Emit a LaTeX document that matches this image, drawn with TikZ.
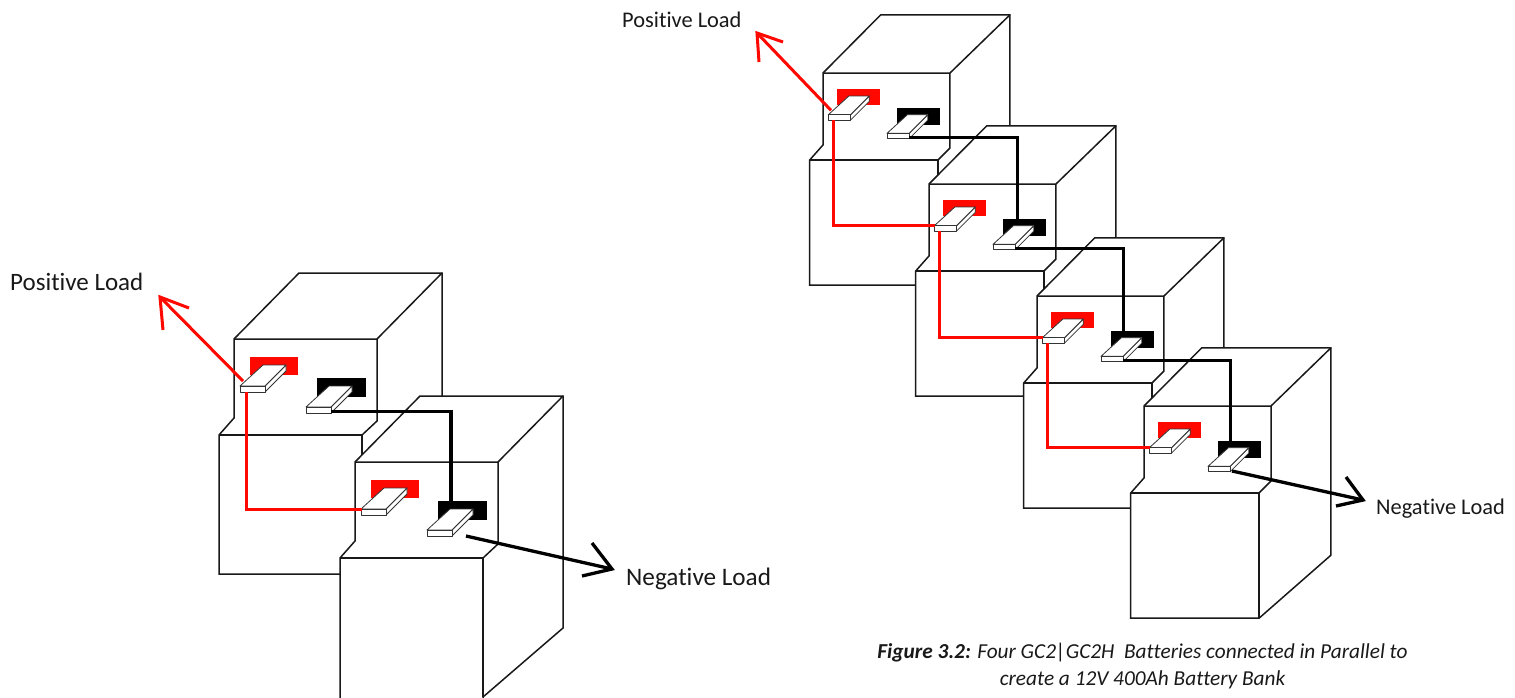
\documentclass[tikz,border=0pt]{standalone}
\usepackage{fontspec}
\setmainfont{Carlito}[Ligatures=NoCommon]
\definecolor{bred}{RGB}{255,8,0}
\tikzset{
  case/.style={draw=black!90,line width=1.5pt,line join=miter},
  lug/.style={draw=black!80,fill=white,line width=0.8pt,line join=round},
  redwire/.style={draw=bred,line width=3pt,line join=miter},
  blackwire/.style={draw=black,line width=3.3pt,line join=miter},
  loadtext/.style={anchor=base west,inner sep=0pt,text=black!90},
}
% proportions of a case: back right x, neck y, side edge end, lower right x,
% side corner y, neck left y, neck right y, top back y
\def\kX{208}\def\kN{96}\def\kE{166}\def\kR{128}\def\kD{235}\def\kL{79}\def\kM{82}\def\kT{-66}
% #1 name, #2 x, #3 y, #4 scale, #5 bottom of the lower case
\newcommand{\batt}[5]{%
  \begin{scope}[shift={(#2,#3)},scale=#4]
    \draw[case,fill=white] (0,0) -- (65,\kT) -- (\kX,\kT) -- (\kX,\kE) -- (\kR,\kD) -- (\kR,#5) -- (-15,#5) -- (-15,\kN) -- (0,\kL) -- cycle;
    \draw[case] (143,0) -- (\kX,\kT);
    \draw[case] (0,0) -- (143,0) -- (143,\kM) -- (\kR,\kN);
    \draw[case] (-15,\kN) -- (\kR,\kN) -- (\kR,\kD);
    \fill[bred] (16,18) rectangle (64,36);
    \fill[black] (83,39) rectangle (132,58);
    \foreach \dx/\dy in {0/0,66/21}{
      \begin{scope}[shift={(\dx,\dy)}]
        \draw[lug] (31,47) -- (52,26) -- (52,32) -- (31,53) -- cycle;
        \draw[lug] (6,47) -- (29,26) -- (52,26) -- (31,47) -- cycle;
        \draw[lug] (6,47) rectangle (31,53);
      \end{scope}
    }
    \coordinate (#1rb) at (12,53);
    \coordinate (#1rl) at (6.5,47);
    \coordinate (#1bo) at (97,72.5);
    \coordinate (#1bi) at (97.5,39.5);
    \coordinate (#1rp) at (9,42);
  \end{scope}}
\begin{document}
\begin{tikzpicture}[x=1pt,y=-1pt]
\useasboundingbox (0,0) rectangle (1515,697);
% left pair
\batt{L}{234}{339}{1}{235}
\batt{M}{355}{462}{1}{245}
% right bank
\def\sc{0.888}
\def\kX{210.5}\def\kN{98}\def\kE{168}\def\kR{129.5}\def\kD{239}\def\kL{81}\def\kM{84.5}\def\kT{-65.5}
\batt{A}{823}{73}{\sc}{239}
\batt{B}{929}{184}{\sc}{239}
\batt{C}{1037}{296}{\sc}{239}
\batt{D}{1144}{406}{\sc}{239}
% wires, left pair
\draw[redwire] (Lrb) |- (Mrl);
\draw[blackwire] (Lbo) -| ([xshift=-1.5pt]Mbi);
% wires, right bank
\draw[redwire] (Arb) |- (Brl);
\draw[redwire] (Brb) |- (Crl);
\draw[redwire] (Crb) |- (Drl);
\draw[blackwire] (Abo) -| ([xshift=2pt]Bbi);
\draw[blackwire] (Bbo) -| (Cbi);
\draw[blackwire] (Cbo) -| (Dbi);
% load arrows
\coordinate (t1) at (160,297); \coordinate (t1a) at (189,308); \coordinate (t1b) at (163,330);
\draw[redwire] (Lrp) -- (t1);
\draw[redwire] (t1a) -- (t1) -- (t1b);
\coordinate (t2) at (757,33); \coordinate (t2a) at (783,42); \coordinate (t2b) at (759,62);
\draw[redwire] (Arp) -- (t2);
\draw[redwire] (t2a) -- (t2) -- (t2b);
\coordinate (s3) at (466,536); \coordinate (t3) at (612,569); \coordinate (t3a) at (592,543); \coordinate (t3b) at (582,576);
\draw[blackwire] (s3) -- (t3);
\draw[blackwire] (t3a) -- (t3) -- (t3b);
\coordinate (s4) at (1232,471); \coordinate (t4) at (1363,500); \coordinate (t4a) at (1346,477); \coordinate (t4b) at (1336,506);
\draw[blackwire] (s4) -- (t4);
\draw[blackwire] (t4a) -- (t4) -- (t4b);
% labels
\node[loadtext,font=\fontsize{25}{30}\selectfont] (plL) at (10,290) {Positive Load};
\node[loadtext,font=\fontsize{22.4}{27}\selectfont] (plR) at (622,27) {Positive Load};
\node[loadtext,font=\fontsize{25.2}{30}\selectfont] (nlL) at (626,585) {Negative Load};
\node[loadtext,font=\fontsize{22.4}{27}\selectfont] (nlR) at (1376,514) {Negative Load};
\node[anchor=base,inner sep=0pt,align=center,text=black!90,font=\fontsize{21.3}{27}\selectfont\itshape] (cap) at (1142.5,685) {{\bfseries Figure 3.2:} Four GC2|GC2H~ Batteries connected in Parallel to\\create a 12V 400Ah Battery Bank};
\end{tikzpicture}
\end{document}
